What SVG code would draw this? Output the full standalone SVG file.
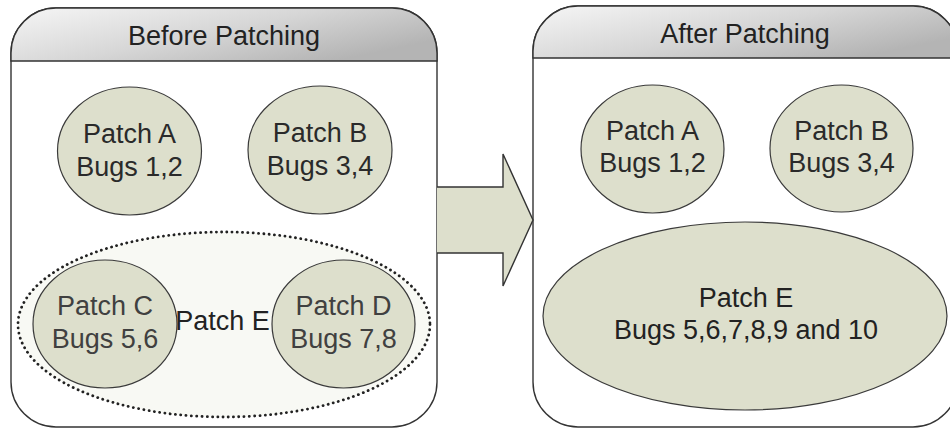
<svg xmlns="http://www.w3.org/2000/svg" width="950" height="429" viewBox="0 0 950 429">
  <defs>
    <linearGradient id="hdr" x1="0" y1="0" x2="1" y2="0.6">
      <stop offset="0" stop-color="#f6f6f6"/>
      <stop offset="0.55" stop-color="#d6d6d6"/>
      <stop offset="1" stop-color="#b4b4b4"/>
    </linearGradient>
    <style>
      .panel { fill: #ffffff; stroke: #333333; stroke-width: 1.4; }
      .hdr { fill: url(#hdr); stroke: #333333; stroke-width: 1.4; }
      .node { fill: #dddfcc; stroke: #3a3a3a; stroke-width: 1.2; }
      .group { fill: #f8f9f4; stroke: #222222; stroke-width: 2.8; stroke-dasharray: 0.1 5.2; stroke-linecap: round; }
      .arrow { fill: #dddfcc; stroke: #333333; stroke-width: 1.4; stroke-linejoin: miter; }
      text { font-family: "Liberation Sans", Arial, sans-serif; font-size: 27px; text-anchor: middle; }
      .t { fill: #2a2a2a; }
      .tl { fill: #404040; }
      .title { fill: #222222; }
    </style>
  </defs>

  <g id="panel-before">
    <rect class="panel" x="11" y="8" width="426" height="419" rx="45" ry="45"/>
    <path class="hdr" d="M11,61 V53 A45,45 0 0 1 56,8 H392 A45,45 0 0 1 437,53 V61 Z"/>
    <text class="title" x="224" y="45">Before Patching</text>
  </g>

  <g id="panel-after">
    <rect class="panel" x="533" y="6" width="425" height="421" rx="45" ry="45"/>
    <path class="hdr" d="M533,58 V51 A45,45 0 0 1 578,6 H913 A45,45 0 0 1 958,51 V58 Z"/>
    <text class="title" x="745" y="43">After Patching</text>
  </g>

  <g id="connectors">
    <path class="arrow" d="M437,187 H503 V154 L533,220 L503,286 V253 H437"/>
  </g>

  <g id="before-patch-a">
    <ellipse class="node" cx="129.5" cy="151" rx="72" ry="64"/>
    <text class="t" x="129.5" y="143">Patch A</text>
    <text class="t" x="129.5" y="176">Bugs 1,2</text>
  </g>
  <g id="before-patch-b">
    <ellipse class="node" cx="320" cy="150" rx="72" ry="64"/>
    <text class="t" x="320" y="142">Patch B</text>
    <text class="t" x="320" y="175">Bugs 3,4</text>
  </g>

  <g id="before-patch-e">
    <ellipse class="group" cx="224" cy="324.5" rx="206" ry="92.5"/>
    <text class="title" x="222.5" y="330">Patch E</text>
  </g>
  <g id="before-patch-c">
    <ellipse class="node" cx="105" cy="324" rx="72" ry="64"/>
    <text class="tl" x="105" y="315">Patch C</text>
    <text class="tl" x="105" y="348">Bugs 5,6</text>
  </g>
  <g id="before-patch-d">
    <ellipse class="node" cx="343.5" cy="324" rx="71.5" ry="64"/>
    <text class="tl" x="343.5" y="315">Patch D</text>
    <text class="tl" x="343.5" y="348">Bugs 7,8</text>
  </g>

  <g id="after-patch-a">
    <ellipse class="node" cx="652.5" cy="149" rx="71.5" ry="64"/>
    <text class="t" x="652.5" y="140">Patch A</text>
    <text class="t" x="652.5" y="172">Bugs 1,2</text>
  </g>
  <g id="after-patch-b">
    <ellipse class="node" cx="841.5" cy="148.5" rx="71.5" ry="63.5"/>
    <text class="t" x="841.5" y="140">Patch B</text>
    <text class="t" x="841.5" y="172">Bugs 3,4</text>
  </g>
  <g id="after-patch-e">
    <ellipse class="node" cx="745" cy="316" rx="202" ry="94"/>
    <text class="title" x="746" y="307">Patch E</text>
    <text class="title" x="746" y="339">Bugs 5,6,7,8,9 and 10</text>
  </g>
</svg>
